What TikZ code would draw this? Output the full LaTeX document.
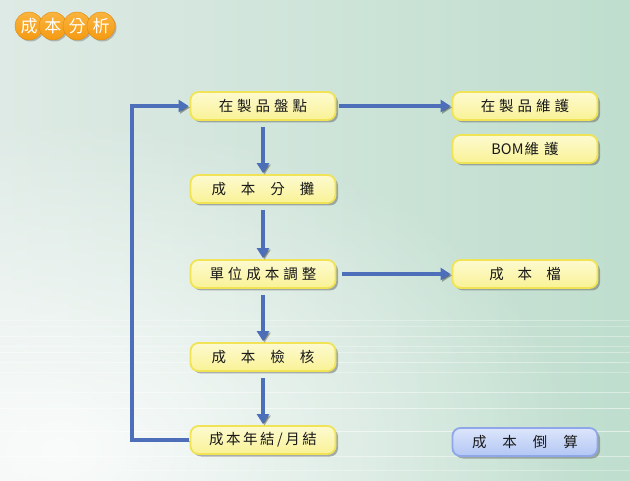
\documentclass[tikz,border=0pt]{standalone}
\usepackage{fontspec}
\newfontfamily\cjk{Noto Sans CJK TC}
\usetikzlibrary{shadows,arrows.meta,fadings}
\definecolor{bgL}{HTML}{DEEAE5}
\definecolor{bgR}{HTML}{BFDECE}
\definecolor{arrowBlue}{HTML}{4D6FBA}
\definecolor{boxYt}{HTML}{FDFAD0}
\definecolor{boxYb}{HTML}{F9F296}
\definecolor{boxEdge}{HTML}{F0E355}
\definecolor{boxBt}{HTML}{DCE5FB}
\definecolor{boxBb}{HTML}{B3C6F4}
\definecolor{boxBEdge}{HTML}{8FA7E8}
\definecolor{orangeA}{HTML}{F59A12}
\definecolor{orangeB}{HTML}{F9B43E}
\tikzfading[name=glow, inner color=transparent!0, outer color=transparent!100]
\newcommand\sA{\hspace{4pt}}
\newcommand\sB{\hspace{15pt}}
\newcommand\sC{\hspace{2.5pt}}
\tikzset{
  stepbox/.style={rounded corners=8pt, minimum width=145pt, minimum height=28pt,
    draw=boxEdge, line width=1.8pt, top color=boxYt, middle color=white, bottom color=boxYb,
    font=\cjk\fontsize{14.5}{14.5}\selectfont, text=black!90,
    drop shadow={shadow xshift=2.5pt, shadow yshift=-2.5pt, opacity=0.45, fill=black!65}},
  bluebox/.style={stepbox, draw=boxBEdge, top color=boxBt, middle color=white, bottom color=boxBb},
  arr/.style={draw=arrowBlue, line width=3.5pt, -{Triangle[length=10pt,width=12pt]},
    preaction={draw=black, opacity=0.3, transform canvas={shift={(1.5pt,-1.5pt)}}}},
  dot/.style={circle, minimum size=28pt, inner sep=0pt, draw=orangeA!90!black, line width=0.4pt,
    top color=orangeB, bottom color=orangeA, text=white,
    font=\cjk\fontsize{17}{17}\selectfont,
    drop shadow={shadow xshift=1.5pt, shadow yshift=-1.5pt, opacity=0.4, fill=black!60}}
}
\begin{document}
\begin{tikzpicture}[x=1pt,y=-1pt]
\useasboundingbox (0,0) rectangle (630,481);
% background
\shade[left color=bgL, right color=bgR] (0,0) rectangle (630,481);
\begin{scope}
\clip (0,0) rectangle (630,481);
\fill[white, opacity=0.85, path fading=glow] (60,450) ellipse [x radius=520pt, y radius=330pt];
\foreach \yy/\op in {320/0.3,326/0.25,336/0.35,346/0.3,352/0.35,362/0.4,372/0.3,392/0.45,408/0.5,431/0.55,456/0.45,470/0.3}
  \draw[white, line width=0.9pt, opacity=\op] (0,\yy) -- (630,\yy);
\end{scope}
% title
\node[dot] (t1) at (29,26) {成};
\node[dot] (t2) at (53,26) {本};
\node[dot] (t3) at (77,26) {分};
\node[dot] (t4) at (101,26) {析};
% main column
\node[stepbox] (b1) at (263,106) {在\sA 製\sA 品\sA 盤\sA 點};
\node[stepbox] (b2) at (263,189) {成\sB 本\sB 分\sB 攤};
\node[stepbox] (b3) at (263,274) {單\sA 位\sA 成\sA 本\sA 調\sA 整};
\node[stepbox] (b4) at (263,357) {成\sB 本\sB 檢\sB 核};
\node[stepbox] (b5) at (263,440) {成\sC 本\sC 年\sC 結\sC /\sC 月\sC 結};
% right column
\node[stepbox] (r1) at (525,106) {在\sA 製\sA 品\sA 維\sA 護};
\node[stepbox] (r2) at (525,149) {BOM\hspace{1pt}維\hspace{5pt}護};
\node[stepbox] (r3) at (525,274) {成\hspace{14pt}本\hspace{14pt}檔};
\node[bluebox] (r4) at (525,442) {成\hspace{16pt}本\hspace{16pt}倒\hspace{16pt}算};
\coordinate (lp) at (132,0);
% connectors
\draw[arr, shorten <=6pt, shorten >=1pt] (b1.south) -- (b2.north);
\draw[arr, shorten <=6pt, shorten >=1pt] (b2.south) -- (b3.north);
\draw[arr, shorten <=6pt, shorten >=1pt] (b3.south) -- (b4.north);
\draw[arr, shorten <=6pt, shorten >=1pt] (b4.south) -- (b5.north);
\draw[arr, shorten <=3pt, shorten >=1pt] (b1.east) -- (r1.west);
\draw[arr, shorten <=6pt, shorten >=1pt] (b3.east) -- (r3.west);
\draw[arr, shorten <=1pt, shorten >=1pt] (b5.west) -- (b5.west -| lp) |- (b1.west);
\end{tikzpicture}
\end{document}
